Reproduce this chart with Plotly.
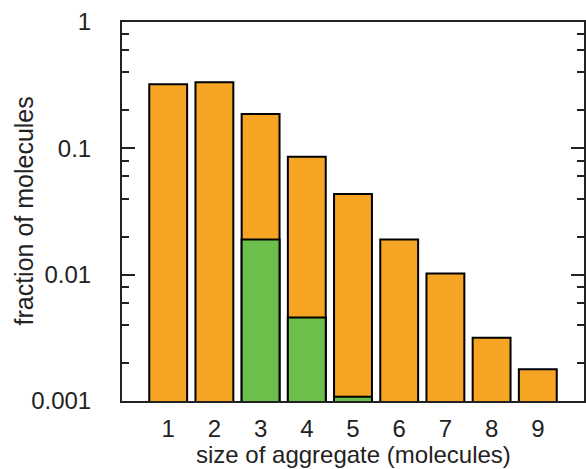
import plotly.graph_objects as go

sizes = [1, 2, 3, 4, 5, 6, 7, 8, 9]
total_fraction = [0.321, 0.333, 0.187, 0.0859, 0.0435, 0.0190, 0.0102, 0.00316, 0.00178]
green_sizes = [3, 4, 5]
green_fraction = [0.0190, 0.00459, 0.00108]

y_major = [0.001, 0.01, 0.1, 1]
y_major_text = ["0.001", "0.01", "0.1", "1"]
y_minor = [m * d for d in [0.001, 0.01, 0.1] for m in [2, 4, 6, 8]]

ORANGE = "#F5A424"
GREEN = "#6CBF4A"
INK = "#222"
FONT = "Liberation Sans, Arial, Helvetica, sans-serif"

fig = go.Figure()
fig.add_trace(go.Bar(x=sizes, y=total_fraction, width=0.82, hoverinfo="skip",
                     marker=dict(color=ORANGE, line=dict(color="black", width=2))))
fig.add_trace(go.Bar(x=green_sizes, y=green_fraction, width=0.82, hoverinfo="skip",
                     marker=dict(color=GREEN, line=dict(color="black", width=2))))
# invisible trace to activate the mirrored right-hand axis
fig.add_trace(go.Scatter(x=sizes, y=total_fraction, yaxis="y2", mode="markers",
                         marker=dict(opacity=0), hoverinfo="skip"))

fig.update_layout(
    width=586, height=469,
    margin=dict(l=122, r=2, t=22, b=68),
    barmode="overlay",
    showlegend=False,
    plot_bgcolor="white",
    paper_bgcolor="white",
    font=dict(family=FONT, size=24, color=INK),
)
fig.update_xaxes(
    range=[0, 10], tickmode="array", tickvals=sizes, ticktext=[str(s) for s in sizes],
    ticks="", showline=True, linecolor=INK, linewidth=2, mirror=True,
    showgrid=False, zeroline=False, ticklabelstandoff=5, automargin=False,
)
axis_common = dict(
    type="log", range=[-3, 0], tickmode="array", tickvals=y_major,
    ticks="inside", ticklen=13, tickwidth=2, tickcolor=INK,
    minor=dict(tickmode="array", tickvals=y_minor, ticks="inside", ticklen=7, tickwidth=2, tickcolor=INK),
    showgrid=False, zeroline=False, automargin=False,
)
fig.update_layout(
    yaxis=dict(**axis_common, ticktext=y_major_text, showline=True, linecolor=INK,
               linewidth=2, ticklabelstandoff=24),
    yaxis2=dict(**axis_common, overlaying="y", side="right", showticklabels=False,
                showline=True, linecolor=INK, linewidth=2),
)
fig.add_annotation(text="size of aggregate (molecules)", xref="paper", yref="paper",
                   x=0.5, y=0, xanchor="center", yanchor="top", yshift=-38,
                   showarrow=False, font=dict(size=24))
fig.add_annotation(text="fraction of molecules", xref="paper", yref="paper",
                   x=0, y=0.5, xanchor="center", yanchor="middle", xshift=-99,
                   textangle=-90, showarrow=False, font=dict(size=25))

fig.write_html(
    "out.html",
    config={"displayModeBar": False},
    post_script="document.body.style.margin='0';document.body.style.overflow='hidden';",
)
